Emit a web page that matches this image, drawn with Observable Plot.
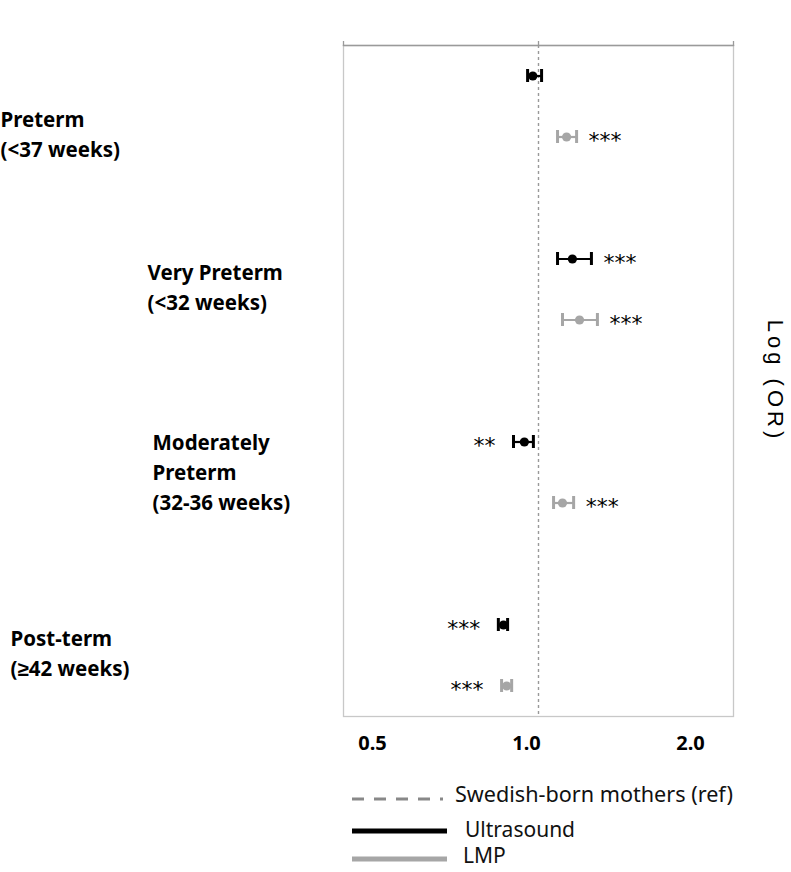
<!DOCTYPE html>
<html><head><meta charset="utf-8">
<script src="https://cdn.jsdelivr.net/npm/d3@7"></script>
<script src="https://cdn.jsdelivr.net/npm/@observablehq/plot@0.6"></script>
<style>
body{margin:0;background:#fff;overflow:hidden}
#wrap{position:relative;width:791px;height:872px;overflow:hidden}
#legend{position:absolute;left:0;top:0}
</style></head><body><div id="wrap"></div>
<script>
// ---- data ----
const groups = ["Preterm", "Very Preterm", "Moderately Preterm", "Post-term"];
const groupLabels = ["Preterm\n(<37 weeks)", "Very Preterm\n(<32 weeks)", "Moderately\nPreterm\n(32-36 weeks)", "Post-term\n(≥42 weeks)"];
const methods = ["Ultrasound", "LMP"];
const rowGroup = ["Preterm", "Preterm", "Very Preterm", "Very Preterm", "Moderately Preterm", "Moderately Preterm", "Post-term", "Post-term"];
const rowMethod = ["Ultrasound", "LMP", "Ultrasound", "LMP", "Ultrasound", "LMP", "Ultrasound", "LMP"];
const orValues = [0.98, 1.105, 1.128, 1.157, 0.951, 1.089, 0.883, 0.893];
const lowerCI = [0.962, 1.07, 1.07, 1.089, 0.915, 1.055, 0.867, 0.877];
const upperCI = [1.011, 1.145, 1.207, 1.233, 0.982, 1.133, 0.896, 0.909];
const stars = ["", "***", "***", "***", "**", "***", "***", "***"];
const xTicks = [0.5, 1.0, 2.0];
const refValue = 1.0;
const legendLabels = ["Swedish-born mothers (ref)", "Ultrasound", "LMP"];

// ---- build ----
const data = rowGroup.map((g, i) => ({
  key: g + "|" + rowMethod[i], group: g, method: rowMethod[i],
  or: orValues[i], lo: lowerCI[i], hi: upperCI[i], stars: stars[i]
}));
const yDomain = groups.flatMap((g, i) => [
  ...methods.map(m => g + "|" + m),
  ...(i < groups.length - 1 ? ["gap" + i] : [])
]);
const colors = ["#000000", "#a6a6a6"];
const labelFont = "'Noto Sans', sans-serif";
const labelOffsets = [[-343, 56], [-196, 26.5], [-191, 28.5], [-333, 26.5]];
const tickLabelShift = [29, -12, -43];

const W = 791, H = 770;
const chart = Plot.plot({
  width: W, height: H,
  marginLeft: 343, marginRight: 58, marginTop: 45, marginBottom: H - 716,
  style: {background: "#fff"},
  x: {type: "log", domain: [0.5, 2]},
  y: {type: "band", domain: yDomain, paddingInner: 0.787, paddingOuter: 0.3935, axis: null},
  color: {domain: methods, range: colors},
  marks: [
    Plot.frame({stroke: "#c8c8c8", strokeWidth: 1.3}),
    Plot.frame({anchor: "top", stroke: "#9a9a9a", strokeWidth: 1.3}),
    Plot.axisX(xTicks, {anchor: "top", tickSize: 5, tickFormat: () => "", stroke: "#9a9a9a", strokeWidth: 1.3, label: null}),
    ...xTicks.map((t, i) => Plot.axisX([t], {
      anchor: "bottom", tickSize: 0, tickPadding: 19, dx: tickLabelShift[i],
      tickFormat: d3.format(".1f"), fontSize: 20, fontWeight: "bold",
      fontFamily: labelFont, fill: "#000", label: null
    })),
    Plot.ruleX([refValue], {stroke: "#999", strokeDasharray: "3,3", strokeWidth: 1.4}),
    Plot.ruleY(data, {y: "key", x1: "lo", x2: "hi", stroke: "method", strokeWidth: 2.2}),
    Plot.tickX(data, {x: "lo", y: "key", stroke: "method", strokeWidth: 3}),
    Plot.tickX(data, {x: "hi", y: "key", stroke: "method", strokeWidth: 3}),
    Plot.dot(data, {x: "or", y: "key", fill: "method", r: 4.6}),
    Plot.text(data.filter(d => d.stars && d.or > 1), {
      x: "hi", y: "key", text: "stars", textAnchor: "start", dx: 12, dy: 4,
      fontSize: 22, fontFamily: "'DejaVu Sans'", fill: "#000"
    }),
    Plot.text(data.filter(d => d.stars && d.or < 1), {
      x: "lo", y: "key", text: "stars", textAnchor: "end", dx: -18, dy: 4,
      fontSize: 22, fontFamily: "'DejaVu Sans'", fill: "#000"
    }),
    ...groups.map((g, i) => Plot.text([groupLabels[i]], {
      y: [g + "|Ultrasound"], text: d => d, frameAnchor: "left",
      textAnchor: "start", lineAnchor: "middle",
      dx: labelOffsets[i][0], dy: labelOffsets[i][1],
      fontSize: 20.5, fontWeight: "bold", fontFamily: labelFont, lineHeight: 1.46, fill: "#000"
    })),
    Plot.text(["Log (OR)"], {
      text: d => d, frameAnchor: "right", textAnchor: "middle", dx: 42, rotate: 90,
      fontSize: 22, fontFamily: "'Liberation Sans', Arial, sans-serif", fill: "#000"
    })
  ]
});
d3.select(chart).selectAll("text").filter(function() { return this.textContent === "Log (OR)"; })
  .style("letter-spacing", "4px");
document.getElementById("wrap").appendChild(chart);

// ---- legend (below the chart) ----
const leg = d3.select("#wrap").append("svg").attr("id", "legend")
  .attr("width", W).attr("height", 872);
const legRows = [
  {y: 799, ty: 793, tx: 455, stroke: "#888", w: 3, dash: "12,10", x2: 443, fs: 21.6},
  {y: 831, ty: 829, tx: 465, stroke: colors[0], w: 5, dash: null, x2: 447, fs: 21},
  {y: 859, ty: 855, tx: 463, stroke: colors[1], w: 5, dash: null, x2: 447, fs: 21}
];
legRows.forEach((r, i) => {
  leg.append("line").attr("x1", 352).attr("x2", r.x2).attr("y1", r.y).attr("y2", r.y)
    .attr("stroke", r.stroke).attr("stroke-width", r.w).attr("stroke-dasharray", r.dash);
  leg.append("text").attr("x", r.tx).attr("y", r.ty).attr("dominant-baseline", "central")
    .attr("font-family", labelFont).attr("font-size", r.fs).attr("fill", "#111")
    .text(legendLabels[i]);
});
</script></body></html>
